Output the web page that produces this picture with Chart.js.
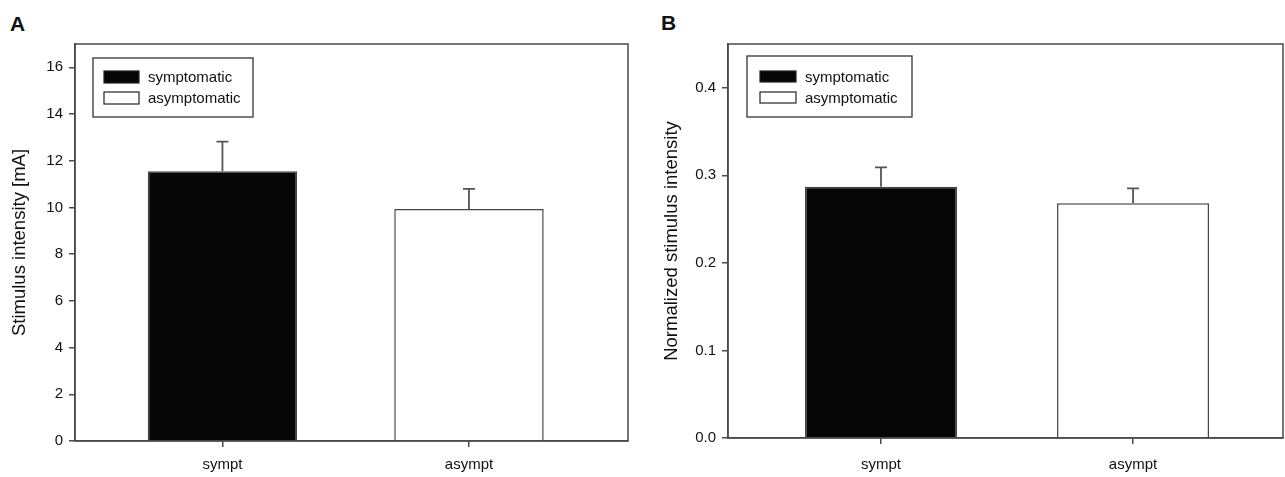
<!DOCTYPE html>
<html><head><meta charset="utf-8">
<script src="https://cdn.jsdelivr.net/npm/chart.js@4"></script>
<style>
html,body{margin:0;padding:0;background:#fff}
body{width:1285px;height:477px;overflow:hidden;position:relative}
.wrap{position:absolute;top:0;height:477px}
.panel{position:absolute;font:bold 21px "Liberation Sans",Arial,sans-serif;line-height:21px;color:#111}
</style></head><body>
<div class="panel" style="left:10px;top:13px">A</div>
<div class="panel" style="left:661px;top:12px">B</div>
<div class="wrap" style="left:0;width:640px"><canvas id="cA" width="640" height="477"></canvas></div>
<div class="wrap" style="left:640px;width:645px"><canvas id="cB" width="645" height="477"></canvas></div>
<script>
// ---- data ----
const categories = ['sympt', 'asympt'];
const seriesNames = ['symptomatic', 'asymptomatic'];
const seriesColors = ['#060606', '#ffffff'];
const stimulusMean = [11.55, 9.93];
const stimulusSem = [1.27, 0.87];
const normalizedMean = [0.287, 0.268];
const normalizedSem = [0.022, 0.017];
const stimulusTicks = [0, 2, 4, 6, 8, 10, 12, 14, 16];
const normalizedTicks = [0.0, 0.1, 0.2, 0.3, 0.4];

const FONT = '"Liberation Sans", Arial, sans-serif';
const TXT = '#111';
const AX = '#4a4a4a';

const panelPlugin = {
  id: 'panelDeco',
  afterDatasetsDraw(chart) {
    const ctx = chart.ctx;
    const xs = chart.scales.x, ys = chart.scales.y;
    ctx.save();
    // error bars (upper only)
    chart.data.datasets.forEach(ds => {
      ds.data.forEach((pt, j) => {
        const e = ds.errors[j];
        const x = xs.getPixelForValue(pt.x);
        const y0 = ys.getPixelForValue(pt.y);
        const y1 = ys.getPixelForValue(pt.y + e);
        ctx.strokeStyle = '#555';
        ctx.lineWidth = 1.8;
        ctx.beginPath();
        ctx.moveTo(x, y0); ctx.lineTo(x, y1);
        ctx.moveTo(x - 6, y1); ctx.lineTo(x + 6, y1);
        ctx.stroke();
      });
    });
    // plot frame
    const a = chart.chartArea;
    ctx.strokeStyle = AX;
    ctx.lineWidth = 1.5;
    ctx.strokeRect(a.left, a.top, a.right - a.left, a.bottom - a.top);
    // legend box
    const L = chart.options.plugins.panelDeco;
    const bx = a.left + L.dx, by = a.top + L.dy;
    ctx.fillStyle = '#fff';
    ctx.fillRect(bx, by, L.w, L.h);
    ctx.strokeStyle = '#333';
    ctx.lineWidth = 1.3;
    ctx.strokeRect(bx, by, L.w, L.h);
    ctx.font = '15px ' + FONT;
    ctx.textBaseline = 'middle';
    chart.data.datasets.forEach((ds, i) => {
      const sy = by + L.sy + i * L.step;
      ctx.fillStyle = ds.backgroundColor;
      ctx.fillRect(bx + L.sx, sy, L.sw, L.sh);
      ctx.strokeStyle = '#222';
      ctx.lineWidth = 1.2;
      ctx.strokeRect(bx + L.sx, sy, L.sw, L.sh);
      ctx.fillStyle = TXT;
      ctx.fillText(ds.label, bx + L.sx + L.sw + 9, sy + L.sh / 2 + 1);
    });
    ctx.restore();
  }
};

function makeChart(id, means, sems, yTicks, cfg) {
  const datasets = seriesNames.map((name, i) => ({
    label: name,
    data: [{ x: i + 1, y: means[i] }],
    errors: [sems[i]],
    backgroundColor: seriesColors[i],
    borderColor: '#444',
    borderWidth: 1.5,
    grouped: false,
    categoryPercentage: 1,
    barPercentage: cfg.barPct
  }));
  return new Chart(document.getElementById(id), {
    type: 'bar',
    data: { datasets },
    options: {
      responsive: false,
      animation: false,
      devicePixelRatio: 1,
      layout: { padding: { left: 0, top: 44, right: cfg.padRight, bottom: 0 } },
      plugins: {
        legend: { display: false },
        tooltip: { enabled: false },
        panelDeco: cfg.legend
      },
      scales: {
        x: {
          type: 'linear',
          min: cfg.xmin, max: cfg.xmax,
          offset: false,
          afterBuildTicks: s => { s.ticks = categories.map((c, i) => ({ value: i + 1 })); },
          afterFit: s => { s.height = cfg.xHeight; },
          ticks: {
            autoSkip: false, maxRotation: 0, padding: cfg.xPad,
            font: { family: FONT, size: 15 }, color: TXT,
            callback: v => categories[Math.round(v) - 1] || ''
          },
          grid: { drawOnChartArea: false, drawTicks: true, tickLength: 6, color: AX, offset: false, lineWidth: 1.5 },
          border: { color: AX, width: 1.5 }
        },
        y: {
          min: 0, max: cfg.ymax,
          afterBuildTicks: s => { s.ticks = yTicks.map(v => ({ value: v })); },
          afterFit: s => { s.width = cfg.yWidth; },
          ticks: {
            padding: 6,
            font: { family: FONT, size: 15 }, color: TXT,
            callback: v => cfg.fmt(v)
          },
          grid: { drawOnChartArea: false, drawTicks: true, tickLength: 6, color: AX, lineWidth: 1.5 },
          border: { color: AX, width: 1.5 },
          title: {
            display: true, text: cfg.yTitle, color: TXT,
            font: { family: FONT, size: 18.5 },
            padding: { top: cfg.titlePad, bottom: 0 }
          }
        }
      }
    },
    plugins: [panelPlugin]
  });
}

makeChart('cA', stimulusMean, stimulusSem, stimulusTicks, {
  xmin: 0.402, xmax: 2.645, ymax: 17, barPct: 0.606,
  padRight: 12, xHeight: 36, yWidth: 75, titlePad: 9, xPad: 9,
  yTitle: 'Stimulus intensity [mA]',
  fmt: v => String(v),
  legend: { dx: 18, dy: 14, w: 160, h: 59, sx: 11, sw: 35, sh: 12, sy: 13, step: 21 }
});
makeChart('cB', normalizedMean, normalizedSem, normalizedTicks, {
  xmin: 0.393, xmax: 2.595, ymax: 0.45, barPct: 0.603,
  padRight: 2, xHeight: 39, yWidth: 88, titlePad: 21, xPad: 12,
  yTitle: 'Normalized stimulus intensity',
  fmt: v => v.toFixed(1),
  legend: { dx: 19, dy: 12, w: 165, h: 61, sx: 13, sw: 36, sh: 11, sy: 15, step: 21 }
});
</script>
</body></html>
